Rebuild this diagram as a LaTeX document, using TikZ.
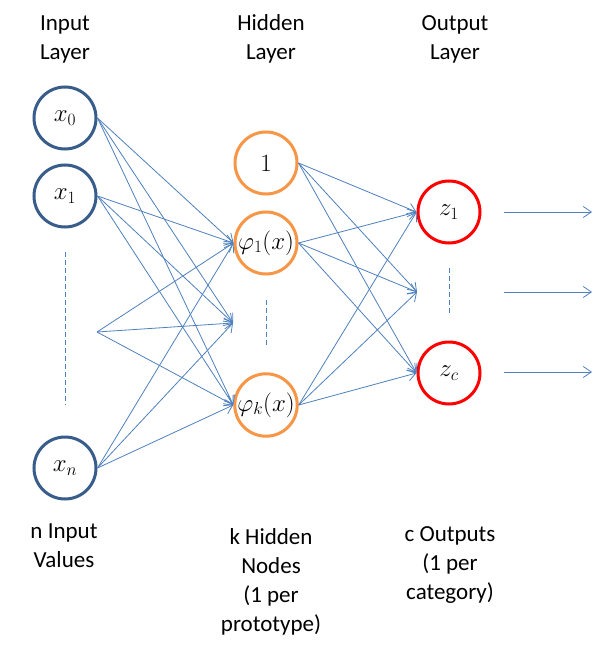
\documentclass[tikz,border=0pt]{standalone}
\usepackage{fontspec}
\setmainfont{Carlito}
\usetikzlibrary{arrows.meta}
\definecolor{inblue}{HTML}{385D8A}
\definecolor{hidorange}{HTML}{F79646}
\definecolor{outred}{HTML}{FF0000}
\definecolor{edgeblue}{HTML}{4F81BD}
\begin{document}
\begin{tikzpicture}[x=1pt,y=-1pt,
  neuron/.style={circle, line width=3pt, minimum size=62pt, inner sep=0pt, fill=white,
    font=\fontsize{25}{30}\selectfont},
  innode/.style={neuron, draw=inblue},
  hidnode/.style={neuron, draw=hidorange},
  outnode/.style={neuron, draw=outred},
  label/.style={align=center, font=\fontsize{23}{29}\selectfont, inner sep=0pt},
  conn/.style={draw=edgeblue, line width=0.8pt, -{Straight Barb[length=8pt,width=11pt]}},
  dots/.style={draw=edgeblue, line width=0.8pt, dash pattern=on 5pt off 3pt}
]
\path[use as bounding box, fill=white] (0,0) rectangle (600,650);

% labels
\node[label] (tin)  at (65,39)  {Input\\Layer};
\node[label] (thid) at (271,39) {Hidden\\Layer};
\node[label] (tout) at (455,39) {Output\\Layer};
\node[label] (bin)  at (64,546) {n Input\\Values};
\node[label] (bhid) at (271,582) {k Hidden\\Nodes\\(1 per\\prototype)};
\node[label] (bout) at (450,565) {c Outputs\\(1 per\\category)};

% dashed separators
\coordinate (ind1) at (65,252);
\coordinate (ind2) at (65,405);
\coordinate (hd1) at (266,300);
\coordinate (hd2) at (266,346);
\coordinate (od1) at (449,268);
\coordinate (od2) at (449,314);
\draw[dots] (ind1) -- (ind2);
\draw[dots] (hd1) -- (hd2);
\draw[dots] (od1) -- (od2);

% input nodes
\node[innode] (x0) at (65,118) {$x_0$};
\node[innode] (x1) at (65,196) {$x_1$};
\node[innode] (xn) at (65,468) {$x_n$};
\coordinate (fan) at (97,332);

% hidden nodes
\node[hidnode] (h0) at (266,163) {$1$};
\node[hidnode] (h1) at (266,243) {$\varphi_1(x)$};
\node[hidnode] (hk) at (266,405) {$\varphi_k(x)$};
\coordinate (hm) at (233,323);

% output nodes
\node[outnode] (z1) at (449,212) {$z_1$};
\node[outnode] (zc) at (449,373) {$z_c$};
\coordinate (om) at (417,292);

% input -> hidden
\foreach \s in {x0,x1,xn} {
  \draw[conn] (\s.east) -- (h1.west);
  \draw[conn] (\s.east) -- (hm);
  \draw[conn] (\s.east) -- (hk.west);
}
\draw[conn] (fan) -- (h1.west);
\draw[conn] (fan) -- (hm);
\draw[conn] (fan) -- (hk.west);

% hidden -> output
\foreach \s in {h0,h1,hk} {
  \draw[conn] (\s.east) -- (z1.west);
  \draw[conn] (\s.east) -- (om);
  \draw[conn] (\s.east) -- (zc.west);
}

% outputs
\coordinate (oa1) at (504,212);
\coordinate (ob1) at (592,212);
\coordinate (oa2) at (504,292);
\coordinate (ob2) at (592,292);
\coordinate (oa3) at (504,372);
\coordinate (ob3) at (592,372);
\draw[conn] (oa1) -- (ob1);
\draw[conn] (oa2) -- (ob2);
\draw[conn] (oa3) -- (ob3);
\end{tikzpicture}
\end{document}
